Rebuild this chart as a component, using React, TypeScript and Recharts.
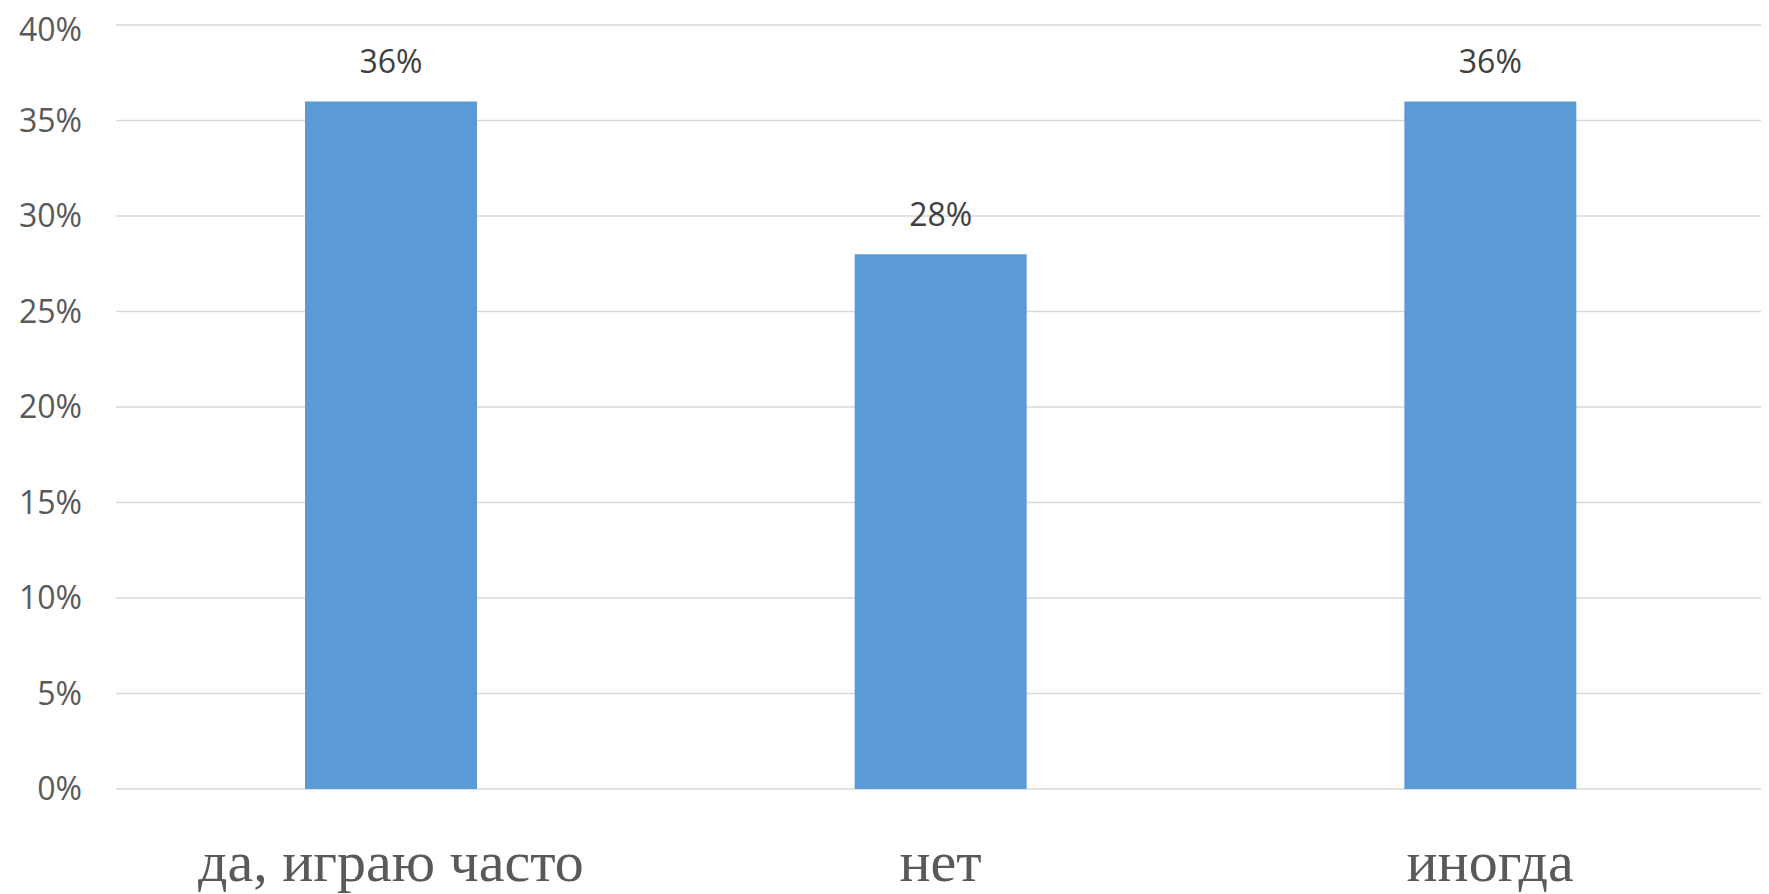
import { BarChart, Bar, XAxis, YAxis, CartesianGrid, LabelList } from 'recharts';

const categories = ['да, играю часто', 'нет', 'иногда'];
const shares = [36, 28, 36];
const yTicks = [0, 5, 10, 15, 20, 25, 30, 35, 40];

const data = categories.map((name, i) => ({ name, share: shares[i] }));

const numFont = '"Open Sans", "Noto Sans", sans-serif';
const pct = (v: number) => `${v}%`;

export default function App() {
  return (
    <BarChart
      width={1761}
      height={886}
      data={data}
      margin={{ top: 17, right: 4, bottom: 5, left: 0 }}
    >
      <CartesianGrid vertical={false} stroke="#D9D9D9" strokeWidth={1.5} />
      <XAxis
        dataKey="name"
        height={100}
        axisLine={false}
        tickLine={false}
        tickSize={0}
        tickMargin={51}
        interval={0}
        tick={{ fill: '#595959', fontSize: 58, fontFamily: '"Liberation Serif", "Times New Roman", serif' }}
      />
      <YAxis
        width={108}
        domain={[0, 40]}
        ticks={yTicks}
        tickFormatter={pct}
        axisLine={false}
        tickLine={false}
        tickSize={0}
        tickMargin={34}
        tick={{ fill: '#595959', fontSize: 32, fontFamily: numFont }}
      />
      <Bar dataKey="share" fill="#5B9BD5" barSize={172} isAnimationActive={false}>
        <LabelList
          dataKey="share"
          position="top"
          offset={28}
          formatter={(v: any) => pct(v)}
          style={{ fill: '#404040', fontSize: 32, fontFamily: numFont }}
        />
      </Bar>
    </BarChart>
  );
}
